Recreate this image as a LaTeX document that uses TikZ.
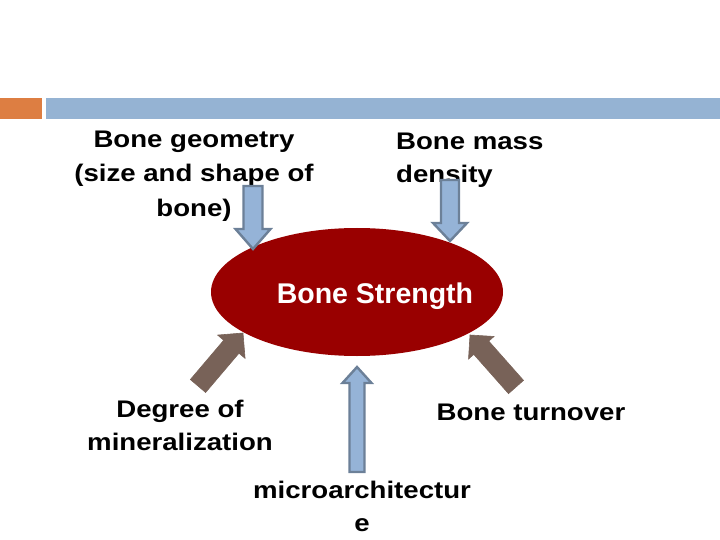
\documentclass[tikz,border=0pt]{standalone}
\usepackage{fontspec}
\usepackage{graphicx}
\setmainfont{Liberation Sans}
\usetikzlibrary{calc}
\definecolor{barorange}{HTML}{DD7E42}
\definecolor{barblue}{HTML}{95B3D3}
\definecolor{bonered}{HTML}{990000}
\definecolor{arrblue}{HTML}{95B3D7}
\definecolor{arrblueline}{HTML}{6C8098}
\definecolor{arrbrown}{HTML}{786258}
\tikzset{
  lbl/.style={inner sep=0pt, text=black, font=\fontsize{24}{24}\selectfont\bfseries},
  bluearrow/.style={fill=arrblue, draw=arrblueline, line width=2.4pt, line join=miter},
  brownarrow/.style={fill=arrbrown, draw=arrbrown, line width=0.6pt, line join=miter},
}
% block arrow: tail, tip, shaft half width, head half width, head length, style
\newcommand\blockarrowdraw[6]{%
  \coordinate (bt) at (#1);
  \coordinate (bp) at (#2);
  \coordinate (bh) at ($(bp)!#5!(bt)$);
  \path[#6] ($(bt)!#3!90:(bp)$) -- ($(bh)!#3!-90:(bt)$) -- ($(bh)!#4!-90:(bt)$) -- (bp)
     -- ($(bh)!#4!90:(bt)$) -- ($(bh)!#3!90:(bt)$) -- ($(bt)!#3!-90:(bp)$) -- cycle;
}
\newcommand\wideword[1]{\scalebox{1.15}[1]{#1}}
\begin{document}
\begin{tikzpicture}[x=1pt,y=-1pt]
\useasboundingbox (0,0) rectangle (720,540);
% header bars
\fill[barorange] (0,98) rectangle (42,119);
\fill[barblue] (46,98) rectangle (720,119);
% central ellipse
\fill[bonered] (357,292) ellipse [x radius=146, y radius=64];
\node[inner sep=0pt, text=white, font=\fontsize{28.5}{28.5}\selectfont\bfseries, anchor=base] (strength) at (375,303) {Bone Strength};
% labels
\node[lbl, anchor=base] (geo1) at (194,148) {\wideword{Bone geometry}};
\node[lbl, anchor=base] (geo2) at (194,182) {\wideword{(size and shape of}};
\node[lbl, anchor=base] (geo3) at (194,216) {\wideword{bone)}};
\node[lbl, anchor=base west] (mass1) at (396,150) {\wideword{Bone mass}};
\node[lbl, anchor=base west] (mass2) at (396,183) {\wideword{density}};
\node[lbl, anchor=base] (deg1) at (180,417) {\wideword{Degree of}};
\node[lbl, anchor=base] (deg2) at (180,450) {\wideword{mineralization}};
\node[lbl, anchor=base] (turn) at (531,420) {\wideword{Bone turnover}};
\node[lbl, anchor=base] (micro1) at (362,498) {\wideword{microarchitectur}};
\node[lbl, anchor=base] (micro2) at (362,531) {\wideword{e}};
% arrows
\blockarrowdraw{253,186}{253,249}{9.5pt}{17.5pt}{20pt}{bluearrow}
\blockarrowdraw{450,180}{450,241}{9pt}{17pt}{18pt}{bluearrow}
\blockarrowdraw{357,472}{357,367}{7.5pt}{14.5pt}{16pt}{bluearrow}
\blockarrowdraw{198,386}{243,333}{10pt}{18pt}{18pt}{brownarrow}
\blockarrowdraw{516,387}{470,335}{10pt}{17pt}{17pt}{brownarrow}
\end{tikzpicture}
\end{document}
